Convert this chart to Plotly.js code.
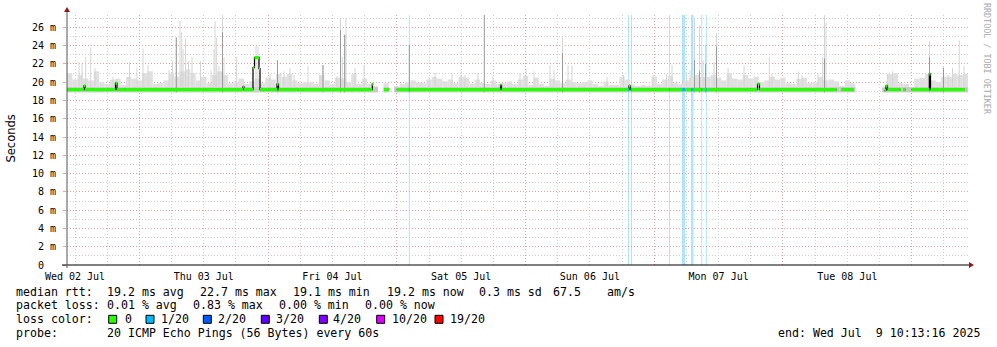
<!DOCTYPE html>
<html><head><meta charset="utf-8">
<script src="https://cdn.plot.ly/plotly-3.0.1.min.js"></script>
<style>html,body{margin:0;padding:0;background:#fff}#chart{width:997px;height:347px}</style>
</head><body><div id="chart"></div>
<script>
// ---- data (hours since graph start, Wed 02 Jul 2025 10:30) ----
const graphStartUTC = [2025, 6, 2, 10, 30];
const graphHours = 168;
const smokeFloor = 18.9;
const smokeCore = 19.45;

// hourly top of the normal smoke band (ms); null = no data
const bandTop = [
  21.0,20.3,20.8,20.4,20.2,21.2,20.0,19.8,20.3,20.4,19.7,20.6,20.4,20.2,21.0,21.2,19.8,19.9,20.2,21.0,20.6,21.2,21.4,21.0,
  20.2,20.6,19.9,20.8,21.2,20.8,19.9,20.0,20.4,19.8,20.1,20.4,19.9,20.5,20.3,20.9,20.6,20.9,20.2,19.9,20.0,20.0,19.8,20.8,
  20.2,19.8,20.5,20.4,20.0,20.9,19.8,20.4,19.8,19.6,null,19.9,null,19.6,19.8,20.0,20.2,20.0,19.9,20.3,20.6,20.4,20.1,20.3,
  19.9,20.6,20.5,19.8,20.3,19.9,19.8,20.2,19.8,19.9,20.1,19.8,20.3,20.7,19.7,20.5,19.8,19.6,20.4,20.2,19.9,20.3,20.0,19.9,
  20.0,20.2,19.8,19.6,20.1,19.7,19.7,20.6,20.3,19.7,19.6,19.7,19.6,20.6,19.8,20.3,20.7,19.9,19.8,20.2,20.5,20.8,20.6,20.6,
  20.8,20.5,20.2,21.0,20.4,20.3,20.8,20.4,20.6,20.0,20.2,20.6,20.3,20.5,19.9,19.8,20.4,20.5,19.9,20.0,20.6,20.2,20.3,20.1,
  19.6,20.2,19.9,null,null,null,null,null,19.3,20.9,21.0,19.9,19.8,19.4,20.4,20.5,20.9,20.2,20.0,20.6,20.6,20.9,20.8,20.9
];

// light smoke spikes
const spikeHour = [2.24,2.80,3.49,4.42,5.22,8.58,11.65,13.05,14.17,15.10,19.02,19.67,20.38,21.07,21.39,21.63,22.10,22.65,23.31,
  24.89,26.85,27.41,27.60,27.91,28.34,28.99,29.27,31.64,35.24,35.61,37.85,39.25,40.46,41.58,42.33,44.94,47.17,47.73,50.34,
  51.00,51.33,51.78,52.02,53.70,55.38,67.50,68.62,71.79,73.47,74.21,76.63,79.43,84.47,85.59,87.08,90.06,90.81,92.39,93.42,
  94.16,100.69,103.77,109.27,111.79,112.81,115.55,116.17,117.00,117.94,118.59,119.06,120.64,121.11,123.26,126.24,130.95,
  131.45,136.36,137.05,140.03,140.91,141.24,141.52,153.01,153.92,160.82,163.43,164.27,165.11,166.37,167.25];
const spikeTop = [22.2,22.0,22.8,23.8,21.6,20.6,22.2,21.6,23.7,21.9,21.3,22.3,24.9,26.7,25.5,23.6,24.8,22.3,22.8,
  22.3,21.3,23.6,26.7,24.9,21.8,27.36,22.7,22.8,24.0,23.9,20.9,22.4,21.2,21.6,20.8,21.8,20.8,21.9,20.7,
  27.0,22.8,25.2,27.0,21.6,21.9,20.6,21.0,21.0,21.2,20.8,21.0,20.6,21.0,21.6,21.2,21.9,21.3,24.9,21.9,
  21.8,20.6,20.8,20.8,20.9,21.9,21.0,21.3,27.1,26.2,22.4,24.1,22.2,25.4,21.6,21.8,22.8,
  20.9,21.2,20.8,20.9,22.8,27.36,26.5,20.9,21.2,24.5,21.6,20.8,21.6,24.6,21.8];

// dense (dark) smoke spikes
const darkSpikeHour = [20.38,28.99,39.25,47.73,51.00,51.78,63.83,77.81,92.39,117.00,117.94,119.06,121.11,141.24,160.82,163.43];
const darkSpikeTop  = [24.9,25.5,22.4,21.9,25.7,25.2,24.1,27.36,23.2,22.4,21.2,22.0,23.9,22.6,22.8,21.6];

// median rtt (step starts); null = no data
const medianHour = [0,3.17,3.35,9.04,9.32,32.82,33.0,34.68,34.96,35.80,35.99,39.16,39.44,56.93,57.11,59.11,60.10,61.48,
  80.83,81.02,104.79,105.07,128.75,129.12,143.52,144.32,146.74,152.43,152.71,152.99,155.45,155.88,156.39,157.43,160.79,161.01,167.44];
const medianValue = [19.2,19.6,19.2,19.9,19.2,19.5,19.2,21.6,22.7,21.5,19.2,19.8,19.2,19.8,null,19.2,null,19.2,
  19.7,19.2,19.6,19.2,19.8,19.2,null,19.2,null,19.1,19.6,19.2,null,19.2,null,19.2,20.9,19.2,null];

// packet loss periods (1/20)
const lossStart = [63.74,104.60,105.16,112.25,114.67,116.35,118.25,119.11];
const lossEnd   = [63.93,104.79,105.35,112.43,115.23,116.81,118.44,119.30];

// y ticks
const yTickVals = [0,2,4,6,8,10,12,14,16,18,20,22,24,26];
const yTickText = ['0  ','2 m','4 m','6 m','8 m','10 m','12 m','14 m','16 m','18 m','20 m','22 m','24 m','26 m'];
const yMax = 27.36;

// legend
const lossLabels = ['0','1/20','2/20','3/20','4/20','10/20','19/20'];
const lossColors = ['#26ff00','#00b8ff','#0059ff','#5e00ff','#7e00ff','#dd00ff','#ff0000'];
const rttItems  = ['median rtt:','19.2 ms avg','22.7 ms max','19.1 ms min','19.2 ms now','0.3 ms sd','67.5','am/s'];
const lossItems = ['packet loss:','0.01 % avg','0.83 % max','0.00 % min','0.00 % now'];
const probeItems = ['probe:','20 ICMP Echo Pings (56 Bytes) every 60s'];
const endLine = 'end: Wed Jul  9 10:13:16 2025';

// ---- build ----
const startMs = Date.UTC(...graphStartUTC);
const T = h => startMs + h * 3600000;
const HOUR = 3600000, SPIKE_W = 660000;

const traces = [];
traces.push({type:'bar', x: bandTop.map((v,k)=>T(k+0.5)), y: bandTop.map(v=>v==null?null:v-smokeFloor),
  base: smokeFloor, width: HOUR, marker:{color:'#e0e0e0', line:{width:0}}, hoverinfo:'skip'});
traces.push({type:'bar', x: bandTop.map((v,k)=>T(k+0.5)), y: bandTop.map(v=>v==null?null:smokeCore-smokeFloor),
  base: smokeFloor, width: HOUR, marker:{color:'#c8c8c8', line:{width:0}}, hoverinfo:'skip'});
traces.push({type:'bar', x: spikeHour.map(T), y: spikeTop.map(v=>v-smokeFloor), base: smokeFloor, width: SPIKE_W,
  marker:{color:'#d4d4d4', line:{width:0}}, hoverinfo:'skip'});
traces.push({type:'bar', x: darkSpikeHour.map(T), y: darkSpikeTop.map(v=>v-smokeFloor), base: smokeFloor, width: SPIKE_W,
  marker:{color:'#989898', line:{width:0}}, hoverinfo:'skip'});

const bx=[], by=[], gx=[], gy=[];
for (let i=0;i<medianHour.length-1;i++){
  const v = medianValue[i];
  if (v==null){ bx.push(null); by.push(null); continue; }
  bx.push(T(medianHour[i]), T(medianHour[i+1])); by.push(v, v);
  gx.push(T(medianHour[i]), T(medianHour[i+1]), null); gy.push(v, v, null);
}
traces.push({type:'scatter', mode:'lines', x:bx, y:by, line:{color:'#000', width:1.2}, hoverinfo:'skip', connectgaps:false});
traces.push({type:'scatter', mode:'lines', x:gx, y:gy, line:{color:lossColors[0], width:3.2}, hoverinfo:'skip', connectgaps:false});
const medianAt = h => { let v=null; for (let i=0;i<medianHour.length;i++){ if (medianHour[i]<=h) v=medianValue[i]; } return v; };
const lx=[], ly=[];
lossStart.forEach((s,i)=>{ const v=medianAt(s); lx.push(T(s),T(lossEnd[i]),null); ly.push(v,v,null); });
traces.push({type:'scatter', mode:'lines', x:lx, y:ly, line:{color:lossColors[1], width:3.2}, hoverinfo:'skip'});

const L=67, R=968, TOP=15, BOT=265;
const px = X => (X-L)/(R-L), py = Y => (BOT-Y)/(BOT-TOP);

const shapes = [];
lossStart.forEach((s,i)=>shapes.push({type:'rect', xref:'x', yref:'paper', x0:T(s), x1:T(lossEnd[i]), y0:0, y1:1,
  fillcolor:'rgba(0,184,255,0.33)', line:{width:0}, layer:'between'}));
shapes.push({type:'line', xref:'paper', yref:'paper', x0:px(62), x1:px(971), y0:0, y1:0, line:{color:'#000', width:1}});
shapes.push({type:'line', xref:'paper', yref:'paper', x0:0, x1:0, y0:py(268), y1:py(10), line:{color:'#555', width:1}});
shapes.push({type:'path', xref:'paper', yref:'paper', fillcolor:'#8b1a1a', line:{width:0},
  path:`M ${px(969)} ${py(262)} L ${px(974)} ${py(265)} L ${px(969)} ${py(268)} Z`});
shapes.push({type:'path', xref:'paper', yref:'paper', fillcolor:'#8b1a1a', line:{width:0},
  path:`M ${px(64)} ${py(12)} L ${px(67)} ${py(7)} L ${px(70)} ${py(12)} Z`});

const nb = s => s.replace(/ /g, '\u00a0');
const MONO = 'DejaVu Sans Mono';
const LF = {family: MONO, size: 11.6, color:'#000'};
const ann = [];
const txt = (X, Y, s, font) => ann.push({xref:'paper', yref:'paper', x:px(X), y:py(Y), text:nb(s),
  showarrow:false, xanchor:'left', yanchor:'middle', font:font, borderpad:0, borderwidth:0});
const rttX = [16,107.3,200,293.3,386.7,479,553.3,607.3];
rttItems.forEach((s,i)=>txt(rttX[i], 291.6, s, LF));
const lossX = [16,107.3,193.3,279,365];
lossItems.forEach((s,i)=>txt(lossX[i], 305.4, s, LF));
txt(16, 319.3, 'loss color:', LF);
const sqX = [108.7,146,203.3,261.3,319.3,376.7,435];
const lblX = [125,160.7,218.3,276,333.3,391.7,450];
lossLabels.forEach((lab,i)=>{
  txt(lblX[i], 319.3, lab, LF);
  shapes.push({type:'rect', xref:'paper', yref:'paper', x0:px(sqX[i]), x1:px(sqX[i]+8), y0:py(323.3), y1:py(315.3),
    fillcolor:lossColors[i], line:{color:'#000', width:1}});
});
const probeX = [16,107.3];
probeItems.forEach((s,i)=>txt(probeX[i], 333.3, s, LF));
txt(778.3, 333.3, endLine, LF);
ann.push({xref:'paper', yref:'paper', x:px(10.5), y:py(139), text:'Seconds', textangle:-90, showarrow:false,
  xanchor:'center', yanchor:'middle', font:{family:'DejaVu Sans', size:11.5, color:'#000'}});
ann.push({xref:'paper', yref:'paper', x:px(987), y:py(59), text:nb('RRDTOOL / TOBI OETIKER'), textangle:90, showarrow:false,
  xanchor:'center', yanchor:'middle', font:{family:MONO, size:8.4, color:'#aaaaaa'}});

const DOT = '1px,2px';
const layout = {
  width:997, height:347, margin:{l:L, r:997-R, t:TOP, b:347-BOT, pad:0},
  paper_bgcolor:'#fff', plot_bgcolor:'#fff', showlegend:false, barmode:'overlay', hovermode:false,
  font:{family:MONO, size:10, color:'#000'},
  xaxis:{type:'date', range:[T(0), T(graphHours)], tickformat:'%a %d %b', dtick:86400000, tick0:Date.UTC(2025,6,3),
    ticklabelmode:'period', showgrid:true, gridcolor:'#e6a3a3', griddash:DOT, gridwidth:1, zeroline:false, showline:false,
    ticks:'', ticklabelstandoff:4, tickfont:{family:MONO, size:10, color:'#000'},
    minor:{dtick:21600000, showgrid:true, gridcolor:'#cfcfcf', griddash:DOT, gridwidth:1}},
  yaxis:{range:[0, yMax], tickmode:'array', tickvals:yTickVals, ticktext:yTickText.map(nb), showgrid:true, gridcolor:'#e6a3a3',
    griddash:DOT, gridwidth:1, zeroline:false, showline:false, ticks:'outside', ticklen:3, tickcolor:'#e6a3a3',
    ticklabelstandoff:5, tickfont:{family:MONO, size:10, color:'#000'},
    minor:{tickmode:'linear', tick0:0, dtick:1, showgrid:true, gridcolor:'#cfcfcf', griddash:DOT, gridwidth:1}},
  shapes:shapes, annotations:ann
};
Plotly.newPlot('chart', traces, layout, {displayModeBar:false, staticPlot:true});
</script></body></html>
